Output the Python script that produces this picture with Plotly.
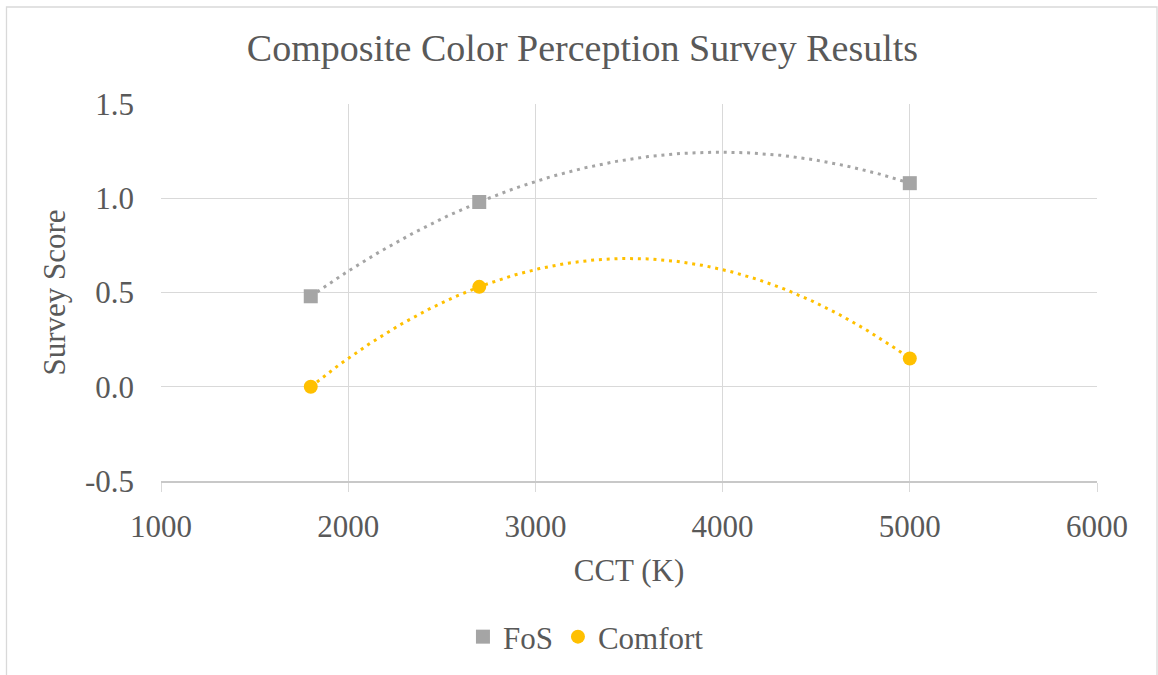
import numpy as np
import plotly.graph_objects as go

# CCT settings (K) and composite survey scores
cct = [1800, 2700, 5000]
fos = [0.48, 0.98, 1.08]
comfort = [0.0, 0.53, 0.15]

series_names = ["FoS", "Comfort"]
series_colors = ["#a5a5a5", "#ffc000"]
series_symbols = ["square", "circle"]

x_ticks = [1000, 2000, 3000, 4000, 5000, 6000]
y_ticks = [-0.5, 0.0, 0.5, 1.0, 1.5]
y_tick_labels = ["-0.5", "0.0", "0.5", "1.0", "1.5"]

FONT = "Liberation Serif"
TEXT = "#595959"
GRID = "#d9d9d9"

fig = go.Figure()

for name, vals, color, sym in zip(series_names, [fos, comfort], series_colors, series_symbols):
    # second-order polynomial trendline through the observations
    coef = np.polyfit(cct, vals, 2)
    xs = np.linspace(min(cct), max(cct), 200)
    fig.add_trace(go.Scatter(
        x=xs, y=np.polyval(coef, xs), mode="lines",
        line=dict(color=color, width=3, dash="3px,4.8px"),
        showlegend=False, hoverinfo="skip"))
    fig.add_trace(go.Scatter(
        x=cct, y=vals, mode="markers", name=name,
        marker=dict(symbol=sym, size=14, color=color, line=dict(width=0))))

fig.update_layout(
    width=1158, height=675,
    margin=dict(l=161, r=61, t=104, b=194),
    paper_bgcolor="white", plot_bgcolor="white",
    font=dict(family=FONT, color=TEXT, size=31),
    title=dict(text="Composite Color Perception Survey Results",
               font=dict(family=FONT, size=38, color=TEXT),
               x=0.503, xref="container", xanchor="center",
               y=1 - 48 / 675, yref="container", yanchor="middle"),
    xaxis=dict(range=[1000, 6000], tickvals=x_ticks, ticktext=[str(v) for v in x_ticks],
               showgrid=True, gridcolor=GRID, gridwidth=1.3,
               showline=True, linecolor="#c8c8c8", linewidth=1.5,
               ticks="outside", ticklen=9, tickcolor=GRID, tickwidth=1.3,
               ticklabelstandoff=8,
               zeroline=False,
               title=dict(text="CCT (K)", font=dict(size=31), standoff=16)),
    yaxis=dict(range=[-0.5, 1.5], tickvals=y_ticks, ticktext=y_tick_labels,
               showgrid=True, gridcolor=GRID, gridwidth=1.3,
               showline=False, zeroline=False,
               ticks="", ticklabelstandoff=26,
               title=dict(text="Survey Score", font=dict(size=31), standoff=10)),
    legend=dict(orientation="h", xref="container", yref="container",
                x=0.506, xanchor="center", y=1 - 637 / 675, yanchor="middle",
                font=dict(size=31), itemsizing="trace", tracegroupgap=0),
    shapes=[dict(type="rect", xref="paper", yref="paper",
                 x0=(6.5 - 161) / 936, x1=(1157 - 161) / 936,
                 y0=(481 - 690) / 377, y1=(481 - 7) / 377,
                 line=dict(color=GRID, width=1.3), fillcolor="rgba(0,0,0,0)",
                 layer="below")],
)

fig.write_html("out.html")
